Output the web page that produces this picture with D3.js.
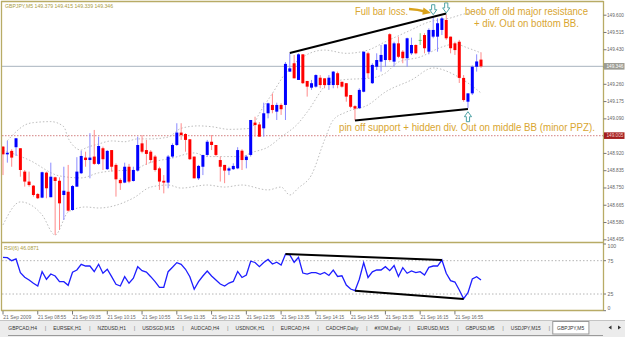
<!DOCTYPE html>
<html>
<head>
<meta charset="utf-8">
<script src="https://cdn.jsdelivr.net/npm/d3@7"></script>
<style>
html, body { margin: 0; padding: 0; background: #fff; }
svg { display: block; font-family: "Liberation Sans", Arial, sans-serif; }
</style>
</head>
<body>
<div id="chart"></div>
<script>
////////////////////////////////////////////////////////////////////////
// Data (bars 08:15 .. 17:25)

const opens = [148.951,148.913,148.930,148.948,148.943,148.828,148.779,148.759,148.718,148.700,
  148.823,148.702,148.800,148.783,148.713,148.729,148.639,148.754,148.820,148.897,
  148.885,148.902,148.866,148.943,148.840,148.934,148.861,148.787,148.774,148.852,
  148.782,148.833,148.967,148.934,148.926,148.902,148.844,148.783,148.774,148.902,
  148.959,149.020,149.013,148.987,148.902,148.795,148.852,148.910,148.975,148.959,
  148.885,148.861,148.833,148.840,148.844,148.931,148.885,148.910,149.069,149.060,
  149.041,149.115,149.156,149.123,149.156,149.156,149.320,149.361,149.279,149.405,
  149.274,149.241,149.246,149.290,149.287,149.254,149.254,149.312,149.270,149.263,
  149.205,149.150,149.140,149.221,149.410,149.263,149.344,149.369,149.377,149.504,
  149.369,149.459,149.418,149.386,149.410,149.451,149.476,149.500,149.418,149.492,
  149.492,149.525,149.574,149.492,149.459,149.467,149.289,149.172,149.213,149.344,
  149.379];
const highs = [148.954,148.980,148.938,148.992,148.943,148.836,148.828,148.762,148.723,148.828,
  148.828,148.872,148.803,148.800,148.852,148.861,148.762,148.899,148.931,148.926,
  149.017,149.033,149.000,148.951,148.934,148.934,148.869,148.795,148.872,148.866,
  148.852,149.000,149.008,148.984,148.934,148.910,148.852,148.811,148.910,148.967,
  149.066,149.066,149.017,148.987,148.902,148.861,148.910,148.984,149.008,148.959,
  148.902,148.861,148.852,148.869,148.948,148.938,148.910,149.082,149.098,149.072,
  149.167,149.167,149.213,149.167,149.164,149.367,149.410,149.402,149.410,149.405,
  149.274,149.279,149.307,149.303,149.287,149.303,149.323,149.320,149.270,149.263,
  149.205,149.155,149.238,149.418,149.418,149.361,149.410,149.451,149.454,149.509,
  149.467,149.492,149.426,149.487,149.487,149.454,149.509,149.509,149.533,149.590,
  149.582,149.590,149.599,149.492,149.467,149.476,149.303,149.213,149.350,149.405,
  149.415];
const lows = [148.811,148.872,148.852,148.905,148.803,148.754,148.754,148.705,148.693,148.697,
  148.697,148.702,148.516,148.541,148.590,148.631,148.636,148.754,148.816,148.852,
  148.795,148.861,148.861,148.836,148.836,148.828,148.705,148.738,148.771,148.771,
  148.779,148.828,148.918,148.861,148.870,148.828,148.738,148.721,148.746,148.894,
  148.954,148.984,148.926,148.885,148.795,148.787,148.811,148.902,148.934,148.902,
  148.779,148.771,148.811,148.836,148.840,148.836,148.844,148.902,149.000,149.000,
  149.000,149.090,149.115,149.082,149.107,149.082,149.318,149.287,149.279,149.259,
  149.197,149.230,149.241,149.238,149.238,149.230,149.238,149.238,149.241,149.172,
  149.140,149.080,149.136,149.218,149.287,149.259,149.328,149.320,149.344,149.369,
  149.344,149.386,149.361,149.344,149.402,149.405,149.451,149.410,149.405,149.484,
  149.418,149.500,149.476,149.410,149.402,149.264,149.172,149.140,149.205,149.320,
  149.339];
const closes = [148.913,148.921,148.897,148.992,148.836,148.779,148.762,148.713,148.697,148.825,
  148.746,148.803,148.782,148.672,148.734,148.636,148.757,148.828,148.905,148.885,
  148.897,148.866,148.954,148.889,148.930,148.852,148.790,148.771,148.852,148.779,
  148.836,148.959,148.926,148.915,148.885,148.836,148.779,148.774,148.902,148.959,
  149.020,149.008,148.984,148.889,148.795,148.856,148.910,148.975,148.959,148.910,
  148.852,148.833,148.844,148.856,148.934,148.885,148.902,149.082,149.057,149.000,
  149.115,149.164,149.131,149.156,149.135,149.358,149.336,149.287,149.405,149.263,
  149.246,149.263,149.303,149.254,149.254,149.290,149.320,149.254,149.246,149.197,
  149.147,149.138,149.230,149.418,149.312,149.353,149.377,149.402,149.454,149.377,
  149.459,149.393,149.386,149.484,149.451,149.410,149.476,149.435,149.525,149.525,
  149.558,149.582,149.484,149.435,149.426,149.289,149.180,149.213,149.344,149.370,
  149.346];

// RSI(6), one value per bar
const rsiValues = [80.1,79.5,75,77.6,57,50.1,46,41.1,37,58.5,
  47.1,55,52,43.5,43.5,38.1,57.6,61,69.6,67,
  67,58.5,69.6,56.1,62.1,51,39.6,37,51,41.1,
  48.6,66,60,58,51,43.5,35.1,35.1,58.5,65.1,
  72,69.6,62.1,51,32.1,43.5,52,59.5,52,46,
  40,37,41.5,43.8,58.8,49.8,53.5,74.2,72.3,66,
  72.3,76.8,70,72.7,68.5,84.6,83.6,72.6,80.1,56.5,
  55,57,57,54.6,57.3,52.8,61,51.3,52.3,38.5,
  32.5,30,47.1,72,49.8,58.3,61,61,66,60,
  67.8,51.3,64.5,56.1,59.5,57,58.5,53.5,65,67,
  67,76,56.1,45,43,31,18,27,47.5,51,
  46.0871];

// Bollinger bands, [bar, price] read at points along each dotted curve
const bbUpper = [[1,148.980],[3,149.024],[5,149.057],[7,149.069],[11,149.074],[14,149.049],
  [15,148.992],[18,148.934],[19,148.944],[22,148.964],[25,148.979],[28,148.975],[31,148.989],
  [34,148.989],[38,148.998],[41,149.041],[45,149.053],[48,149.049],[52,149.036],[57,149.041],
  [59,149.115],[62,149.213],[65,149.312],[68,149.377],[74,149.426],[79,149.410],[84,149.426],
  [88,149.467],[93,149.516],[98,149.564],[103,149.584],[106,149.603],[110,149.613]];
const bbMiddle = [[0,148.934],[6,148.885],[13,148.807],[18,148.797],[22,148.822],[25,148.831],
  [30,148.836],[33,148.866],[39,148.895],[44,148.920],[47,148.902],[51,148.902],[55,148.902],
  [57,148.920],[61,148.949],[64,148.998],[68,149.067],[70,149.121],[75,149.264],[78,149.279],
  [85,149.289],[88,149.313],[91,149.367],[96,149.392],[101,149.441],[104,149.456],[107,149.436],
  [110,149.412]];
const bbLower = [[0,148.566],[4,148.679],[9,148.615],[12,148.516],[15,148.629],[19,148.654],
  [22,148.649],[30,148.698],[34,148.752],[38,148.762],[41,148.747],[47,148.762],[51,148.752],
  [55,148.762],[61,148.738],[64,148.752],[66,148.713],[68,148.748],[71,148.812],[74,148.984],
  [76,149.082],[79,149.121],[84,149.156],[88,149.220],[94,149.279],[99,149.338],[104,149.303],
  [107,149.264],[110,149.215]];

// hand drawn trend lines, [bar, value]
const priceTrendTop = [[66,149.412],[102,149.606]];
const priceTrendBottom = [[81,149.080],[107,149.136]];
const rsiTrendTop = [[65,85],[101,76]];
const rsiTrendBottom = [[81,30],[106,17.5]];

// wingdings arrows placed on bars
const arrowMarks = [{bar: 99, dir: "down"}, {bar: 102, dir: "down"}, {bar: 107, dir: "up"}];

const priceTicks = [149.600,149.515,149.430,149.345,149.260,149.175,149.090,149.005,
  148.920,148.835,148.750,148.665,148.580,148.495];
const redLevel = 149.005;
const rsiLevels = [75, 25];
const rsiTickLabels = [100, 75, 25, 0];
const timeLabels = ["21 Sep 2009","21 Sep 08:55","21 Sep 09:35","21 Sep 10:15","21 Sep 10:55",
  "21 Sep 11:35","21 Sep 12:15","21 Sep 12:55","21 Sep 13:35","21 Sep 14:15","21 Sep 14:55",
  "21 Sep 15:35","21 Sep 16:15","21 Sep 16:55"];
const barsPerLabel = 8;
const tabNames = ["GBPCAD,H4","EURSEK,H1","NZDUSD,H1","USDSGD,M15","AUDCAD,H4","USDNOK,H1",
  "EURCAD,H4","CADCHF,Daily","#XOM,Daily","EURUSD,M15","GBPUSD,M5","USDJPY,M15","GBPJPY,M5"];
const activeTab = "GBPJPY,M5";


////////////////////////////////////////////////////////////////////////
// Layout

const W = 625, H = 337;
const frame = "#b8ab66";
const gold = "#d9a631";

const svg = d3.select("#chart").append("svg")
  .attr("width", W)
  .attr("height", H);

const x = d3.scaleLinear().domain([0, closes.length - 1]).range([3, 481]);
const y = d3.scaleLinear().domain([148.495, 149.600]).range([239.3, 14.7]);
const yR = d3.scaleLinear().domain([0, 100]).range([310.7, 244]);

const defs = svg.append("defs");
defs.append("clipPath").attr("id", "clipMain")
  .append("rect").attr("x", 2).attr("y", 2).attr("width", 601).attr("height", 240);
defs.append("clipPath").attr("id", "clipRsi")
  .append("rect").attr("x", 2).attr("y", 243.5).attr("width", 601).attr("height", 66.5);

// small helper for squeezed texts
function fitText(sel, len) {
  return sel.attr("textLength", len).attr("lengthAdjust", "spacingAndGlyphs");
}

////////////////////////////////////////////////////////////////////////
// Main price window

const main = svg.append("g").attr("clip-path", "url(#clipMain)");

// current bid line and the red level
main.append("line")
  .attr("x1", 2).attr("x2", 603)
  .attr("y1", y(closes[closes.length - 1])).attr("y2", y(closes[closes.length - 1]))
  .attr("stroke", "#a9b4bf").attr("stroke-width", 1);
main.append("line")
  .attr("x1", 2).attr("x2", 603)
  .attr("y1", y(redLevel)).attr("y2", y(redLevel))
  .attr("stroke", "#dc9a9a").attr("stroke-width", 1.4)
  .attr("stroke-dasharray", "1.5,1.5");

// bollinger bands
const bbLine = d3.line()
  .x(d => x(d[0]))
  .y(d => y(d[1]))
  .curve(d3.curveMonotoneX);
[bbUpper, bbMiddle, bbLower].forEach(band => {
  main.append("path")
    .datum(band)
    .attr("d", bbLine)
    .attr("fill", "none")
    .attr("stroke", "#bdbdbd")
    .attr("stroke-width", 1)
    .attr("stroke-dasharray", "1.5,2");
});

// candles
const bars = d3.range(closes.length).map(i => ({
  i: i, o: opens[i], h: highs[i], l: lows[i], c: closes[i]
}));
const bodyW = 3;
const candles = main.append("g").selectAll("g")
  .data(bars)
  .join("g");

candles.append("line")
  .attr("x1", d => x(d.i)).attr("x2", d => x(d.i))
  .attr("y1", d => y(d.h)).attr("y2", d => y(d.l))
  .attr("stroke", d => d.c > d.o ? "#8a8aff" : (d.c < d.o ? "#ff8a8a" : "#7ccc7c"))
  .attr("stroke-width", 1);

candles.append("rect")
  .attr("x", d => x(d.i) - bodyW / 2)
  .attr("y", d => y(Math.max(d.o, d.c)))
  .attr("width", bodyW)
  .attr("height", d => Math.max(1, Math.abs(y(d.o) - y(d.c))))
  .attr("fill", d => d.c > d.o ? "#0000ff" : (d.c < d.o ? "#ff0000" : "#66c266"));

// trend lines
const trend = d3.line().x(d => x(d[0])).y(d => y(d[1]));
[priceTrendTop, priceTrendBottom].forEach(t => {
  main.append("path").datum(t).attr("d", trend)
    .attr("stroke", "#000").attr("stroke-width", 2).attr("fill", "none");
});

// outline arrows
function arrowPath(cx, tip, dir) {
  const s = dir === "down" ? 1 : -1;
  const top = tip - s * 10;
  const neck = tip - s * 5;
  return `M${cx - 1.6},${top} L${cx + 1.6},${top} L${cx + 1.6},${neck} L${cx + 3.6},${neck}` +
    ` L${cx},${tip} L${cx - 3.6},${neck} L${cx - 1.6},${neck} Z`;
}
main.append("g").selectAll("path")
  .data(arrowMarks)
  .join("path")
  .attr("d", d => d.dir === "down"
    ? arrowPath(x(d.bar), y(highs[d.bar]) - 2, "down")
    : arrowPath(x(d.bar), y(lows[d.bar]) + 3.5, "up"))
  .attr("fill", "#fff")
  .attr("stroke", "#4fa3a6")
  .attr("stroke-width", 1);

// annotations
const notes = [
  {text: "Full bar loss.", x: 355, y: 15, len: 53},
  {text: "beob off old major resistance", x: 465, y: 14.5, len: 123},
  {text: "+ div. Out on bottom BB.", x: 474, y: 26.5, len: 105},
  {text: "pin off support + hidden div. Out on middle BB (minor PPZ).", x: 339, y: 130.5, len: 256}
];
notes.forEach(n => {
  fitText(main.append("text")
    .attr("x", n.x).attr("y", n.y)
    .attr("font-size", 10)
    .attr("fill", gold)
    .text(n.text), n.len);
});

// little yellow arrow pointing at the loss bar
main.append("path")
  .attr("d", "M409,9 Q418,9.5 425,11.5")
  .attr("fill", "none").attr("stroke", "#d9a21c").attr("stroke-width", 2.4);
main.append("path")
  .attr("d", "M423.5,7.6 L431,13 L422.3,14.8 Z")
  .attr("fill", "#d9a21c");

// title
fitText(svg.append("text")
  .attr("x", 5).attr("y", 7.5)
  .attr("font-size", 5.5)
  .attr("fill", "#a99a3c")
  .text("GBPJPY,M5  149.379 149.415 149.339 149.346"), 108);

////////////////////////////////////////////////////////////////////////
// RSI window

const rsiG = svg.append("g").attr("clip-path", "url(#clipRsi)");
rsiLevels.forEach(v => {
  rsiG.append("line")
    .attr("x1", 2).attr("x2", 603)
    .attr("y1", yR(v)).attr("y2", yR(v))
    .attr("stroke", "#b5b5b5").attr("stroke-dasharray", "1.5,2");
});
rsiG.append("path")
  .datum(rsiValues)
  .attr("d", d3.line().x((d, i) => x(i)).y(d => yR(d)))
  .attr("fill", "none")
  .attr("stroke", "#1e1eff")
  .attr("stroke-width", 1.3);
const rsiTrend = d3.line().x(d => x(d[0])).y(d => yR(d[1]));
[rsiTrendTop, rsiTrendBottom].forEach(t => {
  rsiG.append("path").datum(t).attr("d", rsiTrend)
    .attr("stroke", "#000").attr("stroke-width", 2).attr("fill", "none");
});
fitText(svg.append("text")
  .attr("x", 4).attr("y", 249.5)
  .attr("font-size", 5.5)
  .attr("fill", "#a99a3c")
  .text("RSI(6) " + d3.format(".4f")(rsiValues[rsiValues.length - 1])), 35);

////////////////////////////////////////////////////////////////////////
// Frame

[[1, 1.5, 603.5, 1.5], [1.5, 1, 1.5, 311], [603.5, 1, 603.5, 311],
 [1, 242.5, 603.5, 242.5], [1, 310.5, 603.5, 310.5]].forEach(l => {
  svg.append("line")
    .attr("x1", l[0]).attr("y1", l[1]).attr("x2", l[2]).attr("y2", l[3])
    .attr("stroke", frame).attr("stroke-width", 1.3);
});

////////////////////////////////////////////////////////////////////////
// Price axis

const yAxis = svg.append("g")
  .attr("transform", "translate(603.5,0)")
  .call(d3.axisRight(y).tickValues(priceTicks).tickSize(3).tickFormat(d3.format(".3f")));
yAxis.select(".domain").remove();
yAxis.selectAll("line").attr("stroke", "#777");
yAxis.selectAll("text")
  .attr("x", 3.5)
  .attr("font-size", 4.7)
  .attr("font-family", "Liberation Sans, Arial, sans-serif")
  .attr("fill", "#666");

// price boxes
function priceBox(v, label, fill, color) {
  const g = svg.append("g").attr("transform", `translate(604,${y(v)})`);
  g.append("rect").attr("x", 0).attr("y", -3.3).attr("width", 20.5).attr("height", 6.6).attr("fill", fill);
  g.append("text").attr("x", 2.5).attr("y", 1.7)
    .attr("font-size", 4.7).attr("fill", color).text(label);
}
priceBox(closes[closes.length - 1], d3.format(".3f")(closes[closes.length - 1]), "#9c9c94", "#ffffff");
priceBox(redLevel, d3.format(".3f")(redLevel), "#a31e1e", "#f4d0d0");

// RSI scale labels
rsiTickLabels.forEach(v => {
  const yy = Math.min(Math.max(yR(v), 246), 307.5);
  svg.append("line").attr("x1", 603.5).attr("x2", 606).attr("y1", yR(v)).attr("y2", yR(v))
    .attr("stroke", "#777");
  svg.append("text")
    .attr("x", 607.5).attr("y", yy + 2)
    .attr("font-size", 5.2)
    .attr("fill", "#666")
    .text(v);
});

////////////////////////////////////////////////////////////////////////
// Time axis

timeLabels.forEach((t, k) => {
  const bx = x(k * barsPerLabel);
  svg.append("line").attr("x1", bx).attr("x2", bx).attr("y1", 311).attr("y2", 314.5)
    .attr("stroke", "#777");
  fitText(svg.append("text")
    .attr("x", bx + 0.3).attr("y", 318.5)
    .attr("font-size", 5.5)
    .attr("fill", "#666")
    .text(t), 28);
});

////////////////////////////////////////////////////////////////////////
// Tab strip

const tabs = svg.append("g");
tabs.append("rect").attr("x", 0).attr("y", 320).attr("width", W).attr("height", 17).attr("fill", "#ececec");
tabs.append("line").attr("x1", 0).attr("x2", W).attr("y1", 320.5).attr("y2", 320.5).attr("stroke", "#c4c4c4");
tabs.append("line").attr("x1", 8).attr("x2", 603).attr("y1", 335.5).attr("y2", 335.5).attr("stroke", "#9a9a9a");

let tx = 8.3;
tabNames.forEach(name => {
  const t = tabs.append("text")
    .attr("x", tx).attr("y", 330)
    .attr("font-size", 6.2)
    .attr("fill", "#333")
    .text(name);
  const w = t.node().getComputedTextLength() * 0.8;
  fitText(t, w);
  if (name === activeTab) {
    tabs.insert("rect", "text")
      .attr("x", tx - 4.3).attr("y", 321.5).attr("width", w + 9).attr("height", 12.5)
      .attr("fill", "#fff").attr("stroke", "#999");
  } else {
    tabs.append("text")
      .attr("x", tx + w + 7.8).attr("y", 330)
      .attr("font-size", 6.2).attr("fill", "#888")
      .text("|");
  }
  tx += w + 16.3;
});

// scroll arrows
tabs.append("path").attr("d", "M608.5,327.5 L611.5,325.5 L611.5,329.5 Z").attr("fill", "#333");
tabs.append("path").attr("d", "M621,327.5 L618,325.5 L618,329.5 Z").attr("fill", "#333");
</script>
</body>
</html>
